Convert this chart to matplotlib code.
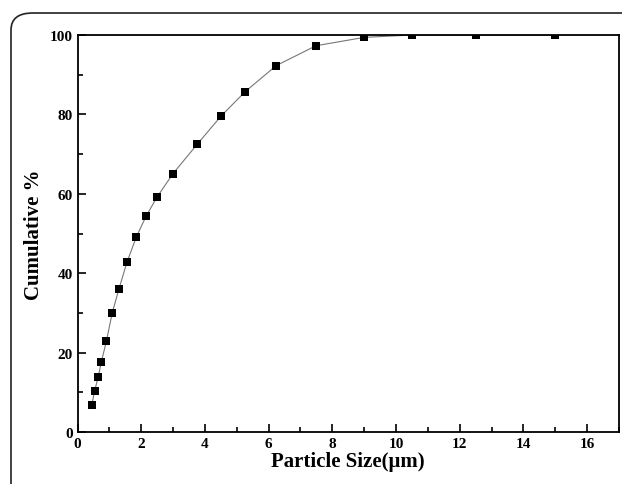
import matplotlib
matplotlib.use("Agg")
import matplotlib.pyplot as plt
from matplotlib.patches import FancyBboxPatch
from matplotlib.ticker import MultipleLocator

# particle size (um) and cumulative fraction (%)
size_um = [0.45, 0.54, 0.65, 0.75, 0.91, 1.09, 1.30, 1.55, 1.85, 2.15, 2.49,
           3.0, 3.76, 4.51, 5.26, 6.24, 7.49, 9.0, 10.5, 12.5, 15.0]
cumulative = [6.9, 10.4, 13.9, 17.7, 23.0, 30.0, 36.0, 42.7, 49.2, 54.3, 59.1,
              65.1, 72.5, 79.6, 85.7, 92.3, 97.3, 99.4, 100.0, 100.0, 100.0]

x_ticks = [0, 2, 4, 6, 8, 10, 12, 14, 16]
y_ticks = [0, 20, 40, 60, 80, 100]

plt.rcParams["font.family"] = ["Liberation Serif", "DejaVu Serif"]
plt.rcParams["font.weight"] = "bold"

fig = plt.figure(figsize=(6.22, 4.85), dpi=100)

# rounded panel frame around the figure (cut at right/bottom)
frame = FancyBboxPatch((11 / 622, -0.1), 1.2, (485 - 14) / 485 + 0.1,
                       boxstyle="round,pad=0,rounding_size=0.035",
                       transform=fig.transFigure, fill=False,
                       edgecolor="#222222", linewidth=1.2, clip_on=False)
fig.patches.append(frame)

ax = fig.add_axes([77.5 / 622, 52 / 485, (619 - 77.5) / 622, (433 - 36) / 485])
ax.plot(size_um, cumulative, color="#777777", lw=0.8, zorder=1)
# scatter so the markers sitting on the 100 % line get clipped like the original
ax.scatter(size_um, cumulative, marker="s", s=6.2 ** 2, color="black",
           linewidths=0, zorder=2, clip_on=True)

ax.set_xlim(0, 17)
ax.set_ylim(0, 100)
ax.set_xticks(x_ticks)
ax.set_yticks(y_ticks)
ax.xaxis.set_minor_locator(MultipleLocator(1))
ax.yaxis.set_minor_locator(MultipleLocator(10))
ax.tick_params(which="both", direction="in", top=False, right=False,
               labelsize=11, width=1.2)
ax.tick_params(which="major", length=6)
ax.tick_params(which="minor", length=3.5)
for lab in ax.get_xticklabels() + ax.get_yticklabels():
    lab.set_fontweight("bold")
for sp in ax.spines.values():
    sp.set_linewidth(1.3)
    sp.set_zorder(3)

ax.set_xlabel("Particle Size(μm)", fontsize=15, fontweight="bold", labelpad=1)
ax.set_ylabel("Cumulative %", fontsize=15, fontweight="bold", labelpad=4)

fig.savefig("out.png", dpi=100)
